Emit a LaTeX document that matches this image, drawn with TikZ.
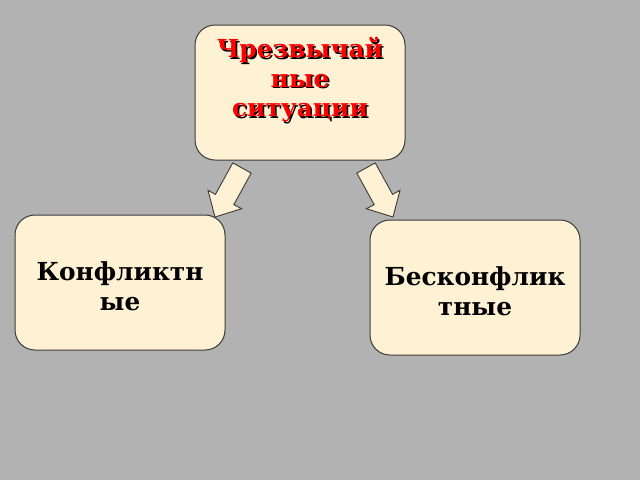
\documentclass[tikz,border=0pt]{standalone}
\usepackage{fontspec}
\setmainfont{DejaVu Serif}
\definecolor{bg}{HTML}{B2B2B2}
\definecolor{cream}{HTML}{FFF2D4}
\definecolor{edge}{HTML}{3A3A3A}
\begin{document}
\begin{tikzpicture}[x=1pt,y=-1pt,
  box/.style={draw=edge, fill=cream, line width=1pt, rounded corners=20pt,
    minimum width=210pt, minimum height=135pt, inner sep=0pt},
  txt/.style={font=\bfseries\fontsize{24.8}{29.5}\selectfont, align=center, inner sep=0pt},
  blockarrow/.style={draw=edge, fill=cream, line width=0.9pt, line join=miter}]
\fill[bg] (0,0) rectangle (640,480);
\useasboundingbox (0,0) rectangle (640,480);
% boxes
\node[box] (top) at (300,92.5) {};
\node[box] (left) at (120,282.5) {};
\node[box] (right) at (475,287.5) {};
% arrows
\draw[blockarrow] (232.8,162.9) -- (251.2,173.1) -- (233.8,204.6) -- (241.6,208.7) -- (215,217) -- (208,190.3) -- (215.4,194.4) -- cycle;
\draw[blockarrow] (375.2,162.9) -- (356.8,173.1) -- (374.2,204.6) -- (366.4,208.7) -- (393,217) -- (400,190.3) -- (392.6,194.4) -- cycle;
% texts
\node[txt, text=black] (topshadow) at (301.5,81.5) {Чрезвычай\\ные\\ситуации};
\node[txt, text=red] (toptext) at (300,80) {Чрезвычай\\ные\\ситуации};
\node[txt] (lefttext) at (120,286) {Конфликтн\\ые};
\node[txt] (righttext) at (475,291) {Бесконфлик\\тные};
\end{tikzpicture}
\end{document}
